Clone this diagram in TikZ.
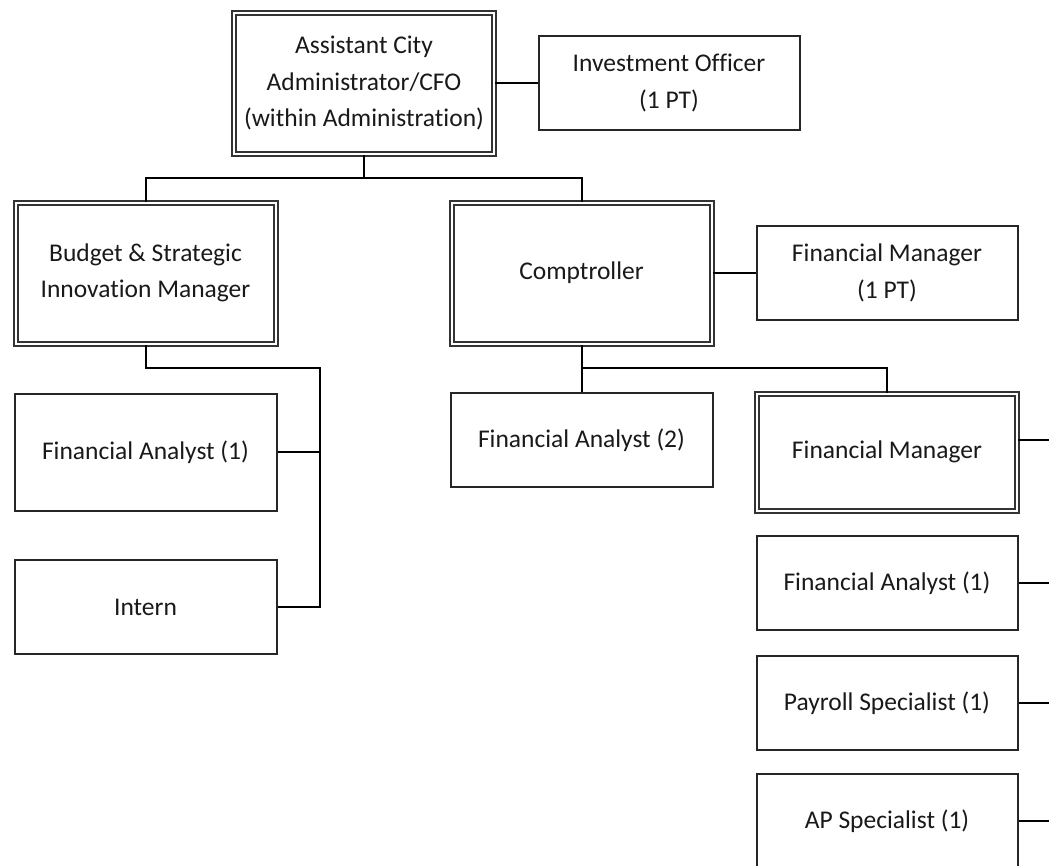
\documentclass[tikz,border=0pt]{standalone}
\usepackage{fontspec}
\setmainfont{Carlito}[Ligatures=NoCommon]
\begin{document}
\begin{tikzpicture}[x=1pt,y=-1pt,line width=2pt,
    every node/.style={font=\fontsize{25.5}{36.5}\selectfont, text=black!90, align=center, inner sep=0pt},
    post/.style={draw=black!85, minimum width=261pt, minimum height=94pt},
    lead/.style={draw=black!80, double=white, double distance=2pt, line width=2pt, minimum width=260pt, minimum height=141pt}]{
    \clip (0,0) rectangle (1049,865);
    \node [lead] (CFO) at (364,83) {Assistant City\\Administrator/CFO\\(within Administration)};
    \node [post] (InvestOfficer) at (669,83) {Investment Officer\\(1 PT)};
    \node [lead] (Budget) at (145.5,273) {Budget \& Strategic\\Innovation Manager};
    \node [lead] (Comptroller) at (581.5,273) {Comptroller};
    \node [post] (FinMgrPT) at (887,273) {Financial Manager\\(1 PT)};
    \node [post, minimum width=262pt, minimum height=117pt] (AnalystOne) at (145.5,452) {Financial Analyst (1)};
    \node [post, minimum width=262pt] (Intern) at (145.5,607) {Intern};
    \node [post, minimum width=262pt] (AnalystTwo) at (581.5,440) {Financial Analyst (2)};
    \node [lead, minimum height=117pt] (FinMgr) at (887,452) {Financial Manager};
    \node [post] (AnalystThree) at (887,583) {Financial Analyst (1)};
    \node [post] (Payroll) at (887,703) {Payroll Specialist (1)};
    \node [post] (APSpec) at (887,821) {AP Specialist (1)};

    \coordinate (CFObus) at (364,178);
    \coordinate (Budgetbus) at (320,368);
    \coordinate (Comptbus) at (581.5,368);
    \coordinate (RightEdge) at (1060,0);

    \path [draw] (CFO.east) -- (CFO.east -| InvestOfficer.west);
    \path [draw] (CFO.south) -- (CFObus);
    \path [draw] (Budget.north) |- (CFObus) -| (Comptroller.north);
    \path [draw] (Comptroller.east) -- (FinMgrPT.west);
    \path [draw] (Budget.south) |- (Budgetbus) |- (Intern.east);
    \path [draw] (AnalystOne.east) -| (Budgetbus);
    \path [draw] (Comptroller.south) -- (Comptbus) -| (FinMgr.north);
    \path [draw] (Comptbus) -- (AnalystTwo.north);
    \path [draw] ([yshift=12pt]FinMgr.east) -- ([yshift=12pt]FinMgr.east -| RightEdge);
    \path [draw] (AnalystThree.east) -- (AnalystThree.east -| RightEdge);
    \path [draw] (Payroll.east) -- (Payroll.east -| RightEdge);
    \path [draw] (APSpec.east) -- (APSpec.east -| RightEdge);
    }
\end{tikzpicture}
\end{document}
